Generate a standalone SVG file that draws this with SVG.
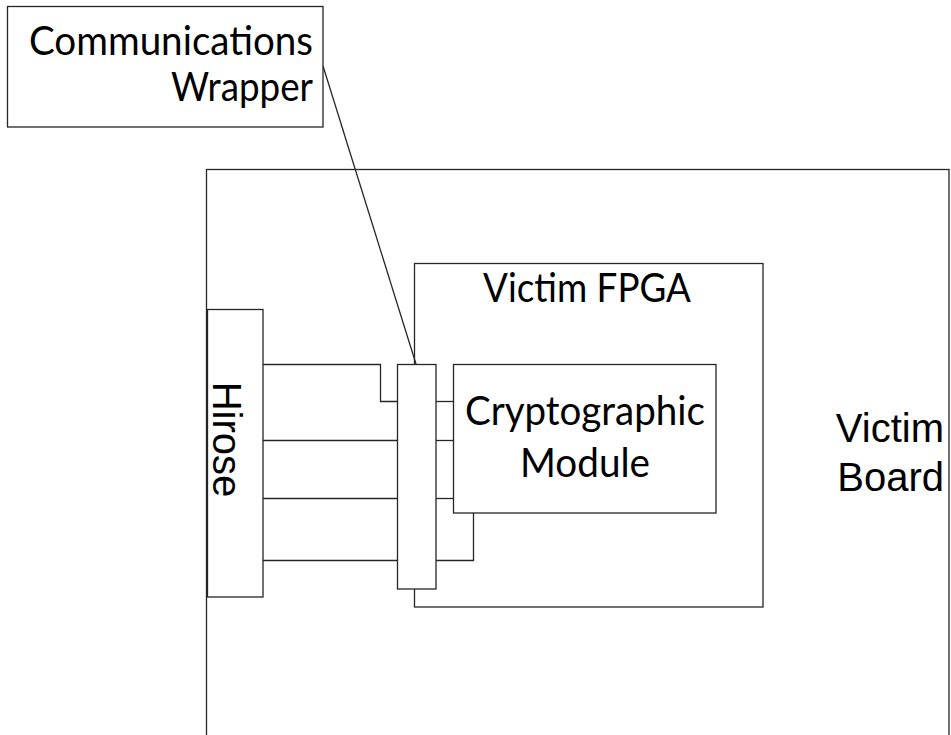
<svg xmlns="http://www.w3.org/2000/svg" width="951" height="735" viewBox="0 0 951 735">
  <style>
    .box { fill: #ffffff; stroke: #262626; stroke-width: 1.3; }
    .wire { fill: none; stroke: #262626; stroke-width: 1.3; }
    .cal { font-family: Lato, "Open Sans", sans-serif; font-size: 40px; fill: #000000; }
    .ari { font-family: "Liberation Sans", Arial, sans-serif; font-size: 40px; fill: #000000; }
  </style>

  <!-- Victim board (extends past the right and bottom edges) -->
  <g id="victim-board">
    <rect class="box" x="206.5" y="169.5" width="742.5" height="580"/>
    <text class="ari" x="944" y="442" text-anchor="end">Victim</text>
    <text class="ari" x="944" y="491" text-anchor="end">Board</text>
  </g>

  <!-- Hirose connector -->
  <g id="hirose">
    <rect class="box" x="207.5" y="309.5" width="55.5" height="287.5"/>
    <text class="ari" transform="translate(213 439.5) rotate(90)" text-anchor="middle">Hirose</text>
  </g>

  <!-- Victim FPGA -->
  <g id="victim-fpga">
    <rect class="box" x="414.5" y="263.5" width="348.5" height="343.5"/>
    <text class="cal" x="483" y="302" textLength="208" lengthAdjust="spacingAndGlyphs">Victim FPGA</text>
  </g>

  <!-- Cryptographic module -->
  <g id="crypto-module">
    <rect class="box" x="453.5" y="364.5" width="262.5" height="148.5"/>
    <text class="cal" x="465" y="425" textLength="240" lengthAdjust="spacingAndGlyphs">Cryptographic</text>
    <text class="cal" x="520" y="477" textLength="130" lengthAdjust="spacingAndGlyphs">Module</text>
  </g>

  <!-- Communications wrapper bar -->
  <g id="wrapper-bar">
    <rect class="box" x="397.5" y="364.5" width="38.5" height="224.5"/>
  </g>

  <!-- Signal wiring -->
  <g id="connectors">
    <polyline class="wire" points="263,364.5 380.5,364.5 380.5,401.5 397.5,401.5"/>
    <line class="wire" x1="263" y1="440.5" x2="397.5" y2="440.5"/>
    <line class="wire" x1="263" y1="498.5" x2="397.5" y2="498.5"/>
    <line class="wire" x1="263" y1="560.5" x2="397.5" y2="560.5"/>
    <line class="wire" x1="436" y1="401.5" x2="453.5" y2="401.5"/>
    <line class="wire" x1="436" y1="440.5" x2="453.5" y2="440.5"/>
    <line class="wire" x1="436" y1="498.5" x2="453.5" y2="498.5"/>
    <polyline class="wire" points="436,560.5 473.5,560.5 473.5,513"/>
    <line class="wire" x1="323" y1="66" x2="416" y2="364"/>
  </g>

  <!-- Callout label -->
  <g id="comm-wrapper-label">
    <rect class="box" x="7.5" y="6.5" width="315.5" height="120.5"/>
    <text class="cal" x="29" y="55" textLength="284" lengthAdjust="spacingAndGlyphs">Communications</text>
    <text class="cal" x="171" y="101" textLength="142" lengthAdjust="spacingAndGlyphs">Wrapper</text>
  </g>
</svg>
